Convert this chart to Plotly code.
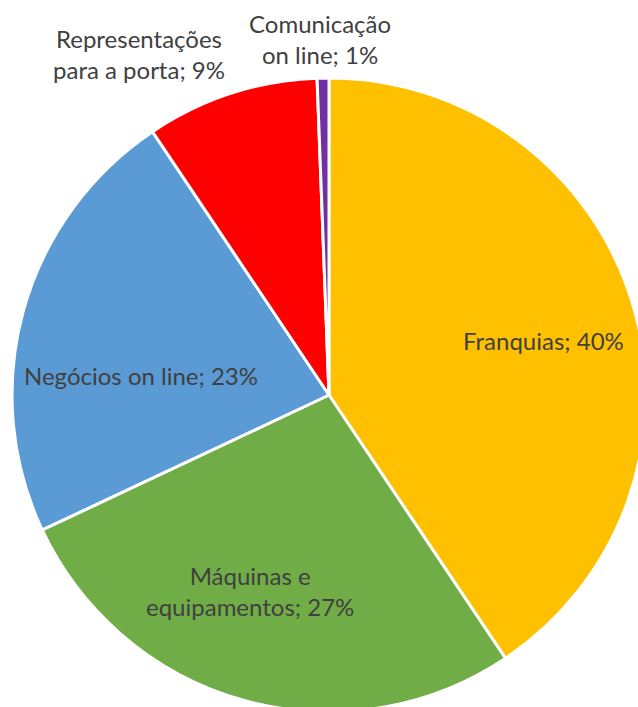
import plotly.graph_objects as go

categories = ["Franquias", "Máquinas e equipamentos", "Negócios on line",
              "Representações para a porta", "Comunicação on line"]
values = [40.6, 27.4, 22.6, 8.8, 0.6]
pct_labels = ["40%", "27%", "23%", "9%", "1%"]
colors = ["#FFC000", "#70AD47", "#5B9BD5", "#FF0000", "#7030A0"]

# figure slightly larger than the 638x707 window so the pie runs off the edges
W, H = 650, 715
cx, cy, r = 329, 395, 317

fig = go.Figure(go.Pie(
    labels=categories,
    values=values,
    sort=False,
    direction="clockwise",
    rotation=0,
    textinfo="none",
    hoverinfo="label+percent",
    marker=dict(colors=colors, line=dict(color="white", width=3)),
    domain=dict(x=[(cx - r) / W, (cx + r) / W],
                y=[(H - cy - r) / H, (H - cy + r) / H]),
    showlegend=False,
))

label_text = [
    f"{categories[0]}; {pct_labels[0]}",
    f"Máquinas e<br>equipamentos; {pct_labels[1]}",
    f"{categories[2]}; {pct_labels[2]}",
    f"Representações<br>para a porta; {pct_labels[3]}",
    f"Comunicação<br>on line; {pct_labels[4]}",
]
label_pos = [(543, 340), (250, 591), (141, 375), (139, 54), (320, 39)]

for t, (px, py) in zip(label_text, label_pos):
    fig.add_annotation(
        x=px / W, y=1 - py / H, xref="paper", yref="paper",
        text=t, showarrow=False, align="center",
        xanchor="center", yanchor="middle",
        font=dict(family="Lato, Open Sans, sans-serif", size=24, color="#404040"),
    )

fig.update_layout(
    width=W, height=H,
    margin=dict(l=0, r=0, t=0, b=0),
    paper_bgcolor="white",
    plot_bgcolor="white",
)

fig.write_html("out.html",
               config={"displayModeBar": False},
               post_script="document.body.style.margin='0px';")
